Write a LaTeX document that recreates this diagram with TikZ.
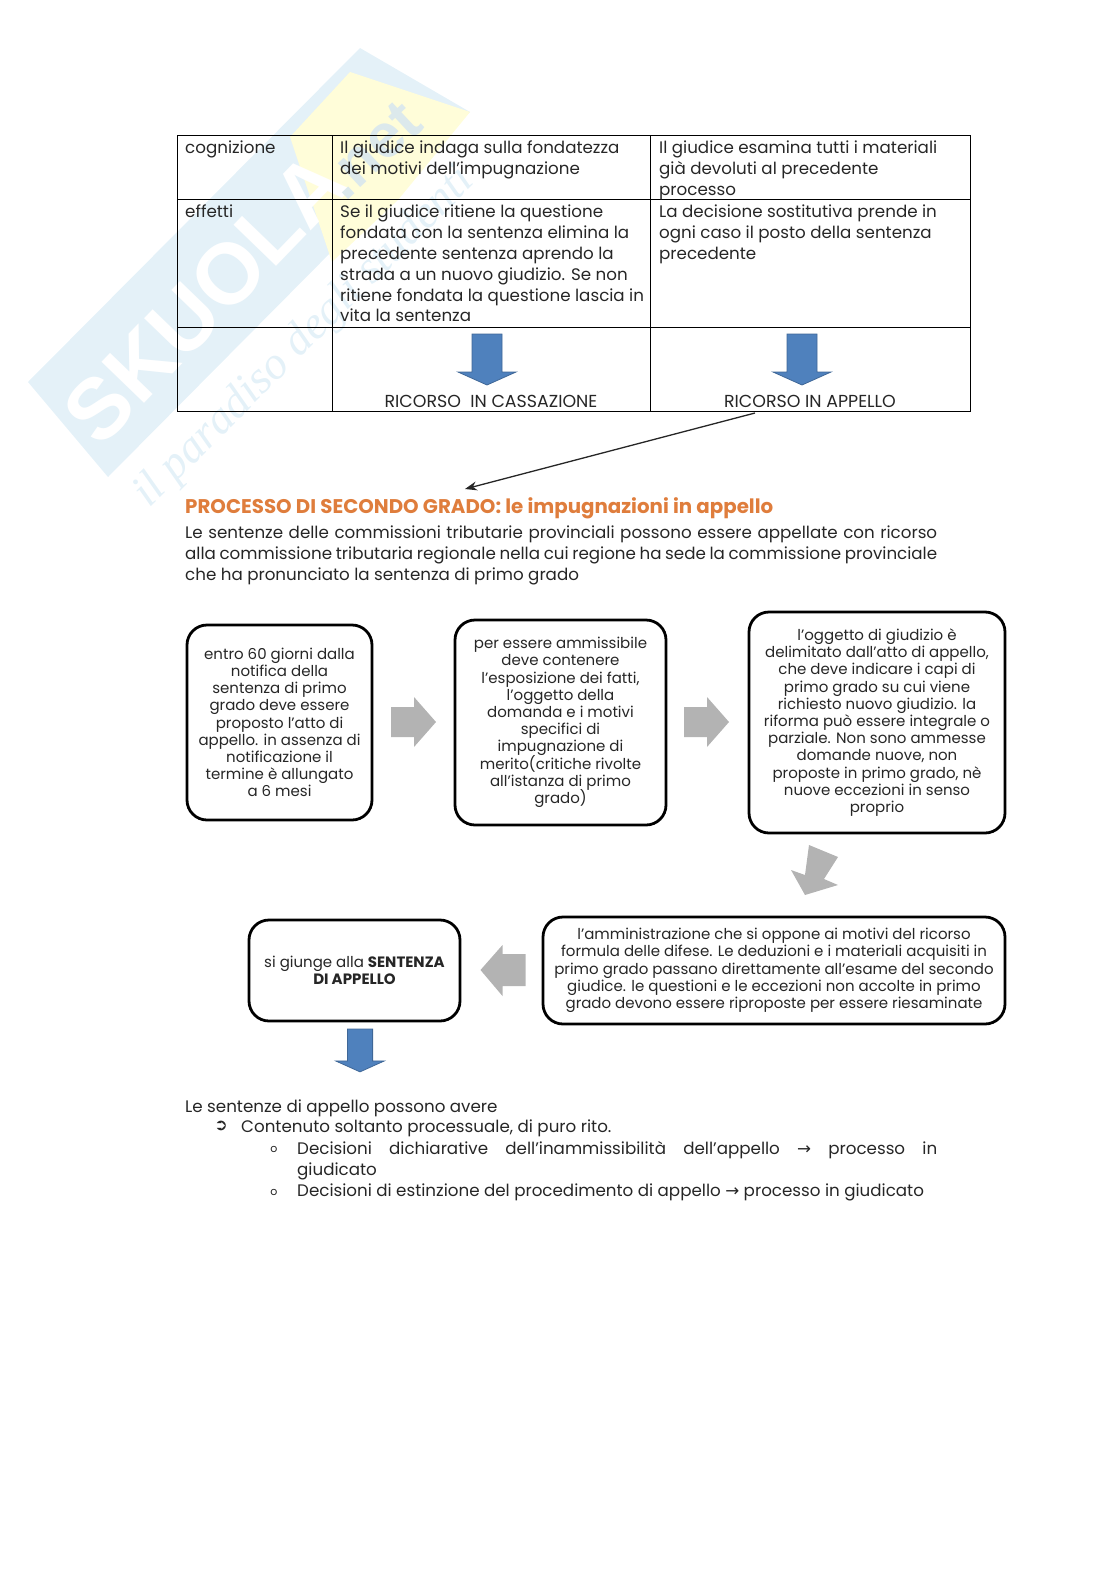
\documentclass[tikz,border=0pt]{standalone}
\usepackage{fontspec}
\setmainfont{Poppins}
\newfontfamily\symfont{DejaVu Sans}
\newfontfamily\markfont{Liberation Sans}
\newfontfamily\sloganfont{Liberation Serif}
\usetikzlibrary{arrows.meta}
\definecolor{wmblue}{HTML}{E4F1F8}
\definecolor{wmnetblue}{HTML}{DCE9EC}
\definecolor{wmyellow}{HTML}{FFFDD9}
\definecolor{headorange}{HTML}{DF7D3C}
\definecolor{blockblue}{HTML}{4F81BD}
\definecolor{blockgray}{HTML}{B3B3B3}
\tikzset{
  cell/.style={anchor=north west, inner sep=0pt, align=left, text=black!85, font=\fontsize{16.7}{20.8}\selectfont},
  bodytext/.style={cell},
  flowbox/.style={draw=black, line width=2.8pt, rounded corners=20pt, fill=white, inner sep=0pt, align=center, text=black!85, font=\fontsize{15}{17.2}\selectfont, execute at begin node={\vspace*{3pt}}},
  blockdown/.style={fill=blockblue, draw=blockblue!80!black, line width=0.8pt},
  blockside/.style={fill=blockgray},
}
\newcommand{\jline}[1]{\makebox[752pt][s]{#1}}
\lineskiplimit=-5pt
\begin{document}
\begin{tikzpicture}[x=1pt,y=-1pt]
  \useasboundingbox (0,0) rectangle (1116,1579);

  % Watermark
  \fill[wmblue] (28,382) -- (360,48) -- (470,112) -- (108,477) -- cycle;
  \fill[wmyellow] (290,137) -- (350,72) -- (470,112) -- (398,200) -- (332,262) -- cycle;
  \node[rotate=46, text=white, font=\markfont\bfseries\fontsize{86}{86}\selectfont] (wmname) at (205,298) {SKUOLA};
  \node[rotate=43, text=wmnetblue, font=\markfont\bfseries\fontsize{62}{62}\selectfont] (wmnet) at (372,150) {.net};
  \node[rotate=45, text=wmblue, font=\sloganfont\itshape\fontsize{46}{46}\selectfont] (wmslogan) at (305,338) {il paradiso degli studenti};

  % Table
  \draw[line width=1pt] (177,135) rectangle (970,411);
  \draw[line width=1pt] (177,199) -- (970,199);
  \draw[line width=1pt] (177,327) -- (970,327);
  \draw[line width=1pt] (332,135) -- (332,411);
  \draw[line width=1pt] (650,135) -- (650,411);

  % Table texts
  \node[cell] (cognizione) at (185,141) {cognizione};
  \node[cell] (indaga) at (340,141) {Il giudice indaga sulla fondatezza\\dei motivi dell’impugnazione};
  \node[cell] (esamina) at (659,141) {Il giudice esamina tutti i materiali\\già devoluti al precedente\\processo};
  \node[cell] (effetti) at (185,205) {effetti};
  \node[cell] (ritiene) at (340,205) {Se il giudice ritiene la questione\\fondata con la sentenza elimina la\\precedente sentenza aprendo la\\strada a un nuovo giudizio. Se non\\ritiene fondata la questione lascia in\\vita la sentenza};
  \node[cell] (sostitutiva) at (659,205) {La decisione sostitutiva prende in\\ogni caso il posto della sentenza\\precedente};
  \node[cell, anchor=north, font=\fontsize{17.4}{20.6}\selectfont] (cassazione) at (491,395) {RICORSO\ \ IN CASSAZIONE};
  \node[cell, anchor=north, font=\fontsize{17.4}{20.6}\selectfont] (appello) at (810,395) {RICORSO IN APPELLO};

  % Blue arrows
  \foreach \ax/\ay/\as in {487/334/1, 802/334/1, 360/1029/0.84}
    \draw[blockdown, shift={(\ax,\ay)}, scale=\as] (-15,0) -- (15,0) -- (15,38) -- (29,38) -- (0,51) -- (-29,38) -- (-15,38) -- cycle;

  % Link to the heading
  \coordinate (headtip) at (465,489);
  \draw[-{Stealth[length=12pt,width=9pt]}, line width=1.3pt, black!85] (755,413) -- (headtip);

  % Heading and paragraph
  \node[cell, text=headorange, font=\bfseries\fontsize{19.8}{24}\selectfont] (heading) at (185,497) {PROCESSO DI SECONDO GRADO: le impugnazioni in appello};
  \node[bodytext] (intro) at (185,526) {\jline{Le sentenze delle commissioni tributarie provinciali possono essere appellate con ricorso}\\\jline{alla commissione tributaria regionale nella cui regione ha sede la commissione provinciale}\\che ha pronunciato la sentenza di primo grado};

  % Flow boxes
  \node[flowbox, minimum width=185pt, minimum height=195pt] (termine) at (279.5,722.5) {entro 60 giorni dalla\\notifica della\\sentenza di primo\\grado deve essere\\proposto l’atto di\\appello. in assenza di\\notificazione il\\termine è allungato\\a 6 mesi};
  \node[flowbox, minimum width=211pt, minimum height=205pt] (contenuto) at (560.5,722.5) {per essere ammissibile\\deve contenere\\l’esposizione dei fatti,\\l’oggetto della\\domanda e i motivi\\specifici di\\impugnazione di\\merito(critiche rivolte\\all’istanza di primo\\grado)};
  \node[flowbox, minimum width=256pt, minimum height=221pt] (oggetto) at (877,722.5) {l’oggetto di giudizio è\\delimitato dall’atto di appello,\\che deve indicare i capi di\\primo grado su cui viene\\richiesto nuovo giudizio. la\\riforma può essere integrale o\\parziale. Non sono ammesse\\domande nuove, non\\proposte in primo grado, nè\\nuove eccezioni in senso\\proprio};
  \node[flowbox, minimum width=462pt, minimum height=107pt] (difese) at (774,970.5) {l’amministrazione che si oppone ai motivi del ricorso\\formula delle difese. Le deduzioni e i materiali acquisiti in\\primo grado passano direttamente all’esame del secondo\\giudice. le questioni e le eccezioni non accolte in primo\\grado devono essere riproposte per essere riesaminate};
  \node[flowbox, minimum width=211pt, minimum height=101pt] (sentenza) at (354.5,970.5) {si giunge alla \textbf{SENTENZA}\\\textbf{DI APPELLO}};

  % Gray block arrows
  \foreach \ax in {391,684}
    \fill[blockside, shift={(\ax,722)}] (0,-15) -- (23,-15) -- (23,-25) -- (45,0) -- (23,25) -- (23,15) -- (0,15) -- cycle;
  \fill[blockside, xshift=-3pt] (812,845) -- (841,857) -- (827,879) -- (841,885) -- (808,895) -- (794,870) -- (808,875) -- cycle;
  \fill[blockside, shift={(525.5,970)}] (0,-16) -- (-23,-16) -- (-23,-25) -- (-45,0) -- (-23,26) -- (-23,16) -- (0,16) -- cycle;

  % Closing text
  \node[cell] (chiusura) at (185,1100) {Le sentenze di appello possono avere};
  \node[cell, anchor=center, font=\symfont\bfseries\fontsize{16}{16}\selectfont] (mainbullet) at (221,1126) {➲};
  \node[cell] (rito) at (241,1120) {Contenuto soltanto processuale, di puro rito.};
  \node[cell, anchor=center, font=\fontsize{11}{11}\selectfont] (subbulleta) at (274,1149) {o};
  \node[cell, anchor=center, font=\fontsize{11}{11}\selectfont] (subbulletb) at (274,1192) {o};
  \node[cell] (dichiarative) at (297,1141) {\makebox[640pt][s]{Decisioni dichiarative dell’inammissibilità dell’appello {\symfont→} processo in}\\giudicato};
  \node[cell] (estinzione) at (297,1184) {Decisioni di estinzione del procedimento di appello {\symfont→} processo in giudicato};
\end{tikzpicture}
\end{document}
